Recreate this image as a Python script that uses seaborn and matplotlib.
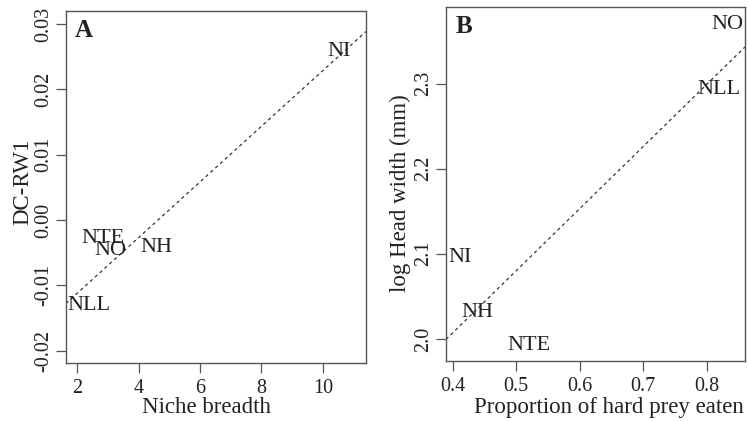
import numpy as np
import pandas as pd
import matplotlib
matplotlib.use("Agg")
import matplotlib.pyplot as plt
import seaborn as sns

# Panel A data
labels_a = ["NI", "NTE", "NO", "NH", "NLL"]
niche_breadth = [10.53, 2.84, 3.07, 4.59, 2.40]
dc_rw1 = [0.0258, -0.0028, -0.0046, -0.0042, -0.0131]
yticks_a = [-0.02, -0.01, 0.00, 0.01, 0.02, 0.03]
yticklabels_a = ["-0.02", "-0.01", "0.00", "0.01", "0.02", "0.03"]
xticks_a = [2, 4, 6, 8, 10]

# Panel B data
labels_b = ["NO", "NLL", "NI", "NH", "NTE"]
hard_prey = [0.832, 0.819, 0.411, 0.439, 0.520]
log_head = [2.369, 2.293, 2.096, 2.031, 1.992]
yticks_b = [2.0, 2.1, 2.2, 2.3]
yticklabels_b = ["2.0", "2.1", "2.2", "2.3"]
xticks_b = [0.4, 0.5, 0.6, 0.7, 0.8]
xticklabels_b = ["0.4", "0.5", "0.6", "0.7", "0.8"]

sns.set_theme(style="white")
plt.rcParams["font.family"] = ["Liberation Serif", "DejaVu Serif"]
plt.rcParams["axes.unicode_minus"] = False

TXT = "#222222"
EDGE = "#555555"

fig = plt.figure(figsize=(7.48, 4.21), dpi=100)
ax_a = fig.add_axes([66/748, 58/421, 300/748, 352/421])
ax_b = fig.add_axes([446/748, 60/421, 299/748, 354/421])

df_a = pd.DataFrame({"x": niche_breadth, "y": dc_rw1, "lab": labels_a})
df_b = pd.DataFrame({"x": hard_prey, "y": log_head, "lab": labels_b})

def style(ax, xlim, ylim):
    ax.set_xlim(*xlim)
    ax.set_ylim(*ylim)
    for s in ax.spines.values():
        s.set_color(EDGE)
        s.set_linewidth(1.0)
        s.set_visible(True)
    ax.tick_params(axis="both", direction="out", length=7.2, width=0.9,
                   color=EDGE, labelsize=14.5, labelcolor=TXT,
                   bottom=True, left=True)
    ax.tick_params(axis="x", pad=4.5)
    ax.tick_params(axis="y", pad=2.0)
    ax.grid(False)

LINE = dict(color="#333333", lw=0.9, linestyle=(0, (2.6, 2.6)))

# Panel A
xlim_a = (1.64, 11.40)
ylim_a = (-0.0219, 0.0320)
ax_a.set_xlim(*xlim_a)
sns.regplot(data=df_a, x="x", y="y", ax=ax_a, scatter=False, ci=None,
            truncate=False, line_kws=LINE)
for _, r in df_a.iterrows():
    ax_a.text(r["x"], r["y"], r["lab"], ha="center", va="center",
              fontsize=16, color=TXT)
style(ax_a, xlim_a, ylim_a)
ax_a.set_xticks(xticks_a)
ax_a.set_xticklabels([str(t) for t in xticks_a])
ax_a.set_yticks(yticks_a)
ax_a.set_yticklabels(yticklabels_a, rotation=90, va="center")
ax_a.set_xlabel("Niche breadth", fontsize=16.5, color=TXT)
ax_a.set_ylabel("DC-RW1", fontsize=16.5, color=TXT)
ax_a.xaxis.set_label_coords(0.469, -0.098)
ax_a.yaxis.set_label_coords(-0.11, 0.515)
ax_a.text(0.03, 0.946, "A", transform=ax_a.transAxes, fontsize=18,
          fontweight="bold", color=TXT, ha="left", va="center")

# Panel B
xlim_b = (0.3895, 0.860)
ylim_b = (1.974, 2.390)
ax_b.set_xlim(*xlim_b)
sns.regplot(data=df_b, x="x", y="y", ax=ax_b, scatter=False, ci=None,
            truncate=False, line_kws=LINE)
for _, r in df_b.iterrows():
    ax_b.text(r["x"], r["y"], r["lab"], ha="center", va="center",
              fontsize=16, color=TXT)
style(ax_b, xlim_b, ylim_b)
ax_b.set_xticks(xticks_b)
ax_b.set_xticklabels(xticklabels_b)
ax_b.set_yticks(yticks_b)
ax_b.set_yticklabels(yticklabels_b, rotation=90, va="center")
ax_b.set_xlabel("Proportion of hard prey eaten", fontsize=16.5, color=TXT)
ax_b.set_ylabel("log Head width (mm)", fontsize=16.5, color=TXT)
ax_b.xaxis.set_label_coords(0.545, -0.102)
ax_b.yaxis.set_label_coords(-0.117, 0.475)
ax_b.text(0.033, 0.945, "B", transform=ax_b.transAxes, fontsize=18,
          fontweight="bold", color=TXT, ha="left", va="center")

fig.savefig("out.png", dpi=100)
